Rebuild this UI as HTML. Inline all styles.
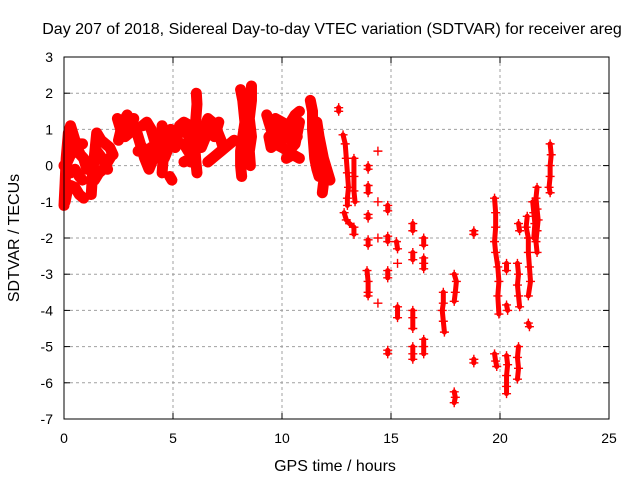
<!DOCTYPE html>
<html><head><meta charset="utf-8"><style>
body{margin:0;background:#fff}
svg{display:block;font-family:"Liberation Sans",sans-serif}
</style></head><body>
<svg id="chart" width="640" height="480">
<text x="332" y="34" font-size="16" text-anchor="middle">Day 207 of 2018, Sidereal Day-to-day VTEC variation (SDTVAR) for receiver areg</text>
<text x="335" y="471" font-size="16" text-anchor="middle">GPS time / hours</text>
<text transform="translate(19,238) rotate(-90)" font-size="16" text-anchor="middle">SDTVAR / TECUs</text>
<g id="grid"></g>
<g id="ticks"></g>
<g id="marks"></g>
<rect x="64" y="57" width="545" height="362" fill="none" stroke="#000" stroke-width="1"/>
</svg>
<script>
const xTicks=[0,5,10,15,20,25];
const yTicks=[3,2,1,0,-1,-2,-3,-4,-5,-6,-7];
const denseTracks=[
[[0,-1.1],[0.05,-0.5],[0.1,0.2],[0.2,0.9],[0.3,1.1],[0.45,0.8],[0.6,0.5],[0.75,0.3],[0.9,0.2],[1.05,-0.1]],
[[0,0],[0.15,0.1],[0.3,0.3],[0.5,0.4],[0.7,0.6],[0.85,0.6]],
[[0.1,-0.1],[0.3,-0.2],[0.5,-0.1],[0.7,-0.3],[0.85,-0.4]],
[[0.05,-1.0],[0.15,-0.7],[0.3,-0.55],[0.5,-0.6],[0.7,-0.8],[0.9,-0.9]],
[[1.25,-0.8],[1.3,-0.3],[1.4,0.3],[1.5,0.9],[1.7,0.7],[1.9,0.6],[2.1,0.5],[2.25,0.3]],
[[1.4,-0.4],[1.6,-0.2],[1.8,-0.1],[2.0,0.1],[2.2,0.3]],
[[1.3,0.1],[1.5,0.4],[1.75,0.2],[2.0,-0.1]],
[[2.45,1.3],[2.6,1.0],[2.8,0.8],[3.0,0.9],[3.2,1.3]],
[[2.5,0.7],[2.7,1.2],[2.9,1.4],[3.1,1.1],[2.9,0.9],[2.6,1.1]],
[[3.3,1.0],[3.5,0.6],[3.7,0.2],[3.9,-0.1],[4.1,0.2],[4.2,0.6],[4.0,1.0],[3.8,1.2],[3.6,1.1]],
[[3.4,0.4],[3.6,0.5],[3.8,0.3],[4.0,0.5]],
[[4.6,0.2],[4.8,0.5],[5.0,0.7],[5.2,0.9],[5.4,1.0],[5.6,0.9],[5.8,0.8]],
[[4.7,0.8],[4.9,1.0],[5.1,0.8],[5.3,0.6],[5.5,0.6],[5.7,0.4]],
[[4.7,0.4],[4.9,0.7],[5.1,0.5],[5.3,1.1],[5.5,1.2],[5.8,1.1],[5.9,0.7]],
[[4.85,-0.3],[4.95,-0.4]],
[[4.5,1.1],[4.5,0.6],[4.55,0.2],[4.5,-0.2]],
[[5.5,0.1],[5.65,0.15],[5.8,0.1]],
[[6.07,2.0],[6.1,1.7],[6.05,1.3],[6.0,0.9],[6.0,0.5],[6.05,0.1],[6.1,-0.2]],
[[6.2,0.8],[6.4,1.0],[6.6,1.3],[6.8,1.2],[7.0,1.0],[7.2,0.7],[7.3,0.5]],
[[6.3,0.5],[6.5,0.8],[6.7,0.9],[6.9,0.8],[7.1,1.2],[6.6,1.0]],
[[6.6,0.1],[6.9,0.25],[7.2,0.4],[7.5,0.55],[7.8,0.7]],
[[8.1,2.1],[8.2,1.8],[8.3,1.2],[8.2,0.8],[8.1,0.4],[8.1,0.0],[8.15,-0.3]],
[[8.6,2.2],[8.6,1.8],[8.5,1.3],[8.6,0.8],[8.5,0.4],[8.55,0.0]],
[[9.3,1.4],[9.5,1.0],[9.7,0.8],[10.0,0.7],[10.3,0.9],[10.6,1.0],[10.8,1.2],[10.6,0.6],[10.3,0.4],[10.0,0.5],[9.7,0.6],[9.5,0.5],[9.4,0.8]],
[[9.4,1.2],[9.7,1.3],[10.0,1.2],[10.3,1.1],[10.6,1.4],[10.8,1.5]],
[[9.5,0.8],[9.8,1.0],[10.1,0.9],[10.4,0.7],[10.7,0.8]],
[[10.2,0.2],[10.5,0.3],[10.8,0.2]],
[[11.3,1.8],[11.4,1.5],[11.4,1.0],[11.45,0.6],[11.5,0.2],[11.6,-0.1],[11.7,-0.3]],
[[11.6,1.2],[11.7,0.8],[11.8,0.5],[11.9,0.2],[12.0,0.0],[12.1,-0.2],[12.2,-0.4]],
[[11.9,-0.5],[11.85,-0.75]]
];
const sparseTracks=[
[[12.6,1.5],[12.6,1.6]],
[[12.8,0.85],[12.9,0.6],[12.95,0.2],[13.0,-0.2],[13.05,-0.6],[13.0,-0.9],[13.0,-1.1]],
[[13.3,0.2],[13.3,-0.3],[13.3,-0.7],[13.35,-1.0]],
[[12.85,-1.3],[12.95,-1.5],[13.1,-1.6],[13.3,-1.7],[13.3,-1.9]],
[[13.95,0.0],[13.95,-0.1]],[[13.95,-0.55],[13.95,-0.75]],[[13.95,-1.35],[13.95,-1.45]],[[13.95,-2.05],[13.95,-2.2]],
[[13.9,-2.9],[13.95,-3.2],[13.95,-3.5],[13.95,-3.6]],
[[14.4,0.4]],[[14.4,-1.0]],[[14.4,-2.0]],[[14.4,-3.8]],
[[14.85,-1.1],[14.85,-1.25]],[[14.85,-1.95],[14.85,-2.1]],[[14.85,-2.9],[14.85,-3.1]],[[14.85,-5.1],[14.85,-5.2]],
[[15.25,-2.1],[15.3,-2.3]],[[15.3,-2.7]],[[15.3,-3.9],[15.3,-4.2]],
[[16.0,-1.6],[16.0,-1.8]],[[16.0,-2.4],[16.0,-2.6]],[[16.0,-4.0],[16.0,-4.2],[16.0,-4.5]],[[16.0,-5.0],[16.0,-5.2],[16.0,-5.35]],
[[16.5,-2.0],[16.5,-2.2]],[[16.5,-2.55],[16.5,-2.7],[16.5,-2.85]],[[16.5,-4.8],[16.5,-5.0],[16.5,-5.2]],
[[17.4,-3.5],[17.4,-3.8],[17.35,-4.0],[17.4,-4.3],[17.45,-4.6]],
[[17.9,-3.0],[18.0,-3.2],[17.95,-3.5],[17.9,-3.75]],[[17.9,-6.25],[17.95,-6.4],[17.9,-6.55]],
[[18.8,-1.8],[18.8,-1.9]],[[18.8,-5.35],[18.8,-5.45]],
[[19.75,-0.9],[19.8,-1.3],[19.8,-1.7],[19.75,-2.1],[19.8,-2.4],[19.9,-2.8],[19.95,-3.2],[19.9,-3.6],[19.95,-4.1]],
[[19.75,-5.2],[19.8,-5.4],[19.85,-5.55]],
[[20.3,-2.7],[20.3,-2.9]],[[20.3,-3.85],[20.35,-4.0]],[[20.3,-5.25],[20.35,-5.5],[20.3,-5.8],[20.3,-6.1],[20.3,-6.3]],
[[20.85,-1.6],[20.9,-1.8]],[[20.8,-2.7],[20.85,-3.0],[20.8,-3.3],[20.85,-3.6],[20.9,-3.9]],[[20.85,-5.0],[20.8,-5.3],[20.85,-5.6],[20.8,-5.9]],
[[21.25,-1.4],[21.2,-1.7],[21.3,-2.0],[21.3,-2.4],[21.35,-2.8],[21.4,-3.2],[21.3,-3.6]],[[21.3,-4.35],[21.35,-4.45]],
[[21.7,-0.6],[21.65,-0.9],[21.7,-1.2],[21.75,-1.5],[21.7,-1.8],[21.65,-2.1],[21.7,-2.4]],
[[21.5,-1.0],[21.55,-1.3],[21.6,-1.6],[21.55,-2.0]],
[[22.3,0.6],[22.35,0.3],[22.3,0.0],[22.3,-0.3],[22.25,-0.6],[22.3,-0.75]]
];
const NS='http://www.w3.org/2000/svg';
const X0=64,X1=609,Y0=419,Y1=57;
function sx(t){return X0+(t-0)/(25-0)*(X1-X0);}
function sy(v){return Y0-(v-(-7))/(3-(-7))*(Y0-Y1);}
function mk(tag,at,parent){const e=document.createElementNS(NS,tag);for(const k in at)e.setAttribute(k,at[k]);parent.appendChild(e);return e;}
const grid=document.getElementById('grid'),ticks=document.getElementById('ticks'),marks=document.getElementById('marks');
xTicks.forEach(t=>{const x=sx(t);
 if(t>0&&t<25){const g=mk('line',{x1:x,x2:x,y1:Y1,y2:Y0,stroke:'#a0a0a0','stroke-dasharray':'3,3'},grid);}
 mk('line',{x1:x,x2:x,y1:Y0,y2:Y0-6,stroke:'#000'},ticks);mk('line',{x1:x,x2:x,y1:Y1,y2:Y1+6,stroke:'#000'},ticks);
 const l=mk('text',{x:x,y:443,'font-size':14,'text-anchor':'middle'},ticks);l.textContent=t;
 });
yTicks.forEach(v=>{const y=sy(v);
 if(v>-7&&v<3){const g=mk('line',{x1:X0,x2:X1,y1:y,y2:y,stroke:'#a0a0a0','stroke-dasharray':'3,3'},grid);}
 mk('line',{x1:X0,x2:X0+6,y1:y,y2:y,stroke:'#000'},ticks);mk('line',{x1:X1,x2:X1-6,y1:y,y2:y,stroke:'#000'},ticks);
 const l=mk('text',{x:53,y:y+5,'font-size':14,'text-anchor':'end'},ticks);l.textContent=v;
 });
function drawTrack(tr,i,width,prefix){
 const g=mk('g',{},marks);
 
 
 if(tr.length>1){mk('polyline',{points:tr.map(p=>sx(p[0])+','+sy(p[1])).join(' '),fill:'none',stroke:'#ff0000','stroke-width':width,'stroke-linejoin':'round','stroke-linecap':'round'},g);}
 tr.forEach(p=>{const x=sx(p[0]),y=sy(p[1]);
  const m=mk('path',{d:`M${x-4.5},${y}H${x+4.5}M${x},${y-4.5}V${y+4.5}`,stroke:'#ff0000','stroke-width':1.4},g);
  
  });
}
denseTracks.forEach((tr,i)=>drawTrack(tr,i,11,'dense'));
sparseTracks.forEach((tr,i)=>drawTrack(tr,i,5,'sparse'));
</script>
</body></html>
